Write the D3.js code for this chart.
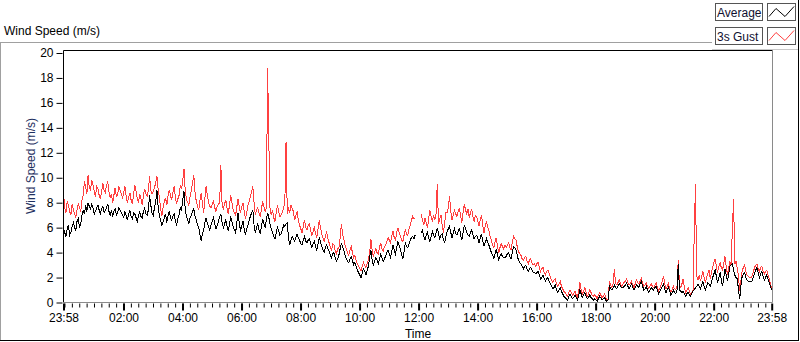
<!DOCTYPE html>
<html><head><meta charset="utf-8">
<script src="https://cdn.jsdelivr.net/npm/d3@7"></script>
<style>
body{margin:0;background:#fff}
svg{display:block}
text{font-family:"Liberation Sans",Arial,sans-serif}
</style>
</head><body>
<svg id="c" width="800" height="342"></svg>
<script>
const chartTitle = "Wind Speed (m/s)";
const yAxisTitle = "Wind Speed (m/s)";
const xAxisTitle = "Time";
const seriesNames = ["Average", "3s Gust"];
const startTime = "23:58";
const stepMinutes = 2.5;

// one row per hour after 23:58 (24 samples per row, last row has the closing sample)
const average = [
6.0,5.6,5.3,5.9,6.2,5.4,5.6,6.1,6.4,6.0,5.8,6.5,6.7,6.0,6.3,7.0,7.4,7.1,7.8,7.3,8.0,7.7,7.5,7.9,
7.6,7.1,7.3,7.6,7.8,7.4,7.1,7.5,7.7,7.2,7.4,7.6,7.9,7.3,7.0,7.4,6.9,7.3,7.5,7.0,7.2,7.6,7.4,7.2,
7.0,6.8,7.3,7.0,6.6,7.1,7.4,6.9,6.7,7.2,7.1,6.8,6.5,7.0,7.3,6.9,6.8,7.3,7.6,7.1,7.0,7.4,8.6,7.8,
7.2,7.0,7.6,8.1,9.0,7.6,7.0,6.6,6.2,6.5,6.8,7.1,6.4,6.9,7.3,6.8,6.6,6.9,7.1,6.5,6.2,6.7,7.0,7.6,
7.4,8.2,8.9,7.5,6.9,6.6,6.3,6.8,7.0,7.3,7.5,6.9,6.6,6.2,6.0,5.4,4.9,5.5,5.8,6.4,6.8,6.3,6.1,5.8,
6.2,6.5,6.8,6.3,5.9,6.2,6.5,6.9,7.1,6.4,6.0,6.3,6.6,6.1,5.7,6.3,6.9,6.5,6.1,5.8,5.6,6.4,7.2,6.3,
5.8,6.1,6.5,5.9,5.4,5.9,6.2,6.6,6.9,7.2,7.4,6.2,5.6,6.0,6.3,5.8,5.5,6.1,6.7,6.3,6.0,6.6,7.2,6.8,
6.3,5.9,5.6,5.3,5.1,5.6,6.0,5.7,5.4,5.5,5.8,6.2,6.1,6.3,6.4,5.2,4.6,5.0,5.3,5.1,4.9,5.2,5.5,5.2,
5.0,4.7,4.6,5.0,5.3,4.9,4.8,5.0,5.1,4.7,4.4,4.7,4.9,4.5,4.2,4.7,5.2,4.9,4.5,4.2,4.0,4.4,4.6,4.3,
4.1,3.8,3.6,3.9,4.0,3.6,3.3,3.5,3.8,4.3,4.7,4.5,4.2,3.8,3.5,3.3,3.2,3.5,3.7,3.4,3.0,3.2,2.9,2.6,
2.4,2.2,2.0,2.4,2.7,2.5,2.2,2.6,2.9,3.6,4.2,3.4,3.0,3.3,3.6,3.4,3.1,3.5,3.9,3.6,3.3,3.5,3.7,4.0,
4.2,3.9,3.6,4.1,4.6,4.2,3.9,4.4,4.9,4.6,4.3,3.8,3.5,4.1,4.8,4.5,4.4,4.7,5.0,5.2,5.3,5.1,5.4,null,
null,null,null,5.6,5.8,5.3,5.0,5.4,5.6,5.2,4.9,5.3,5.7,5.4,5.2,5.6,6.0,5.5,5.1,5.4,5.5,5.0,4.8,5.3,
5.7,5.9,6.1,5.6,5.2,5.6,5.9,5.5,5.4,5.7,6.0,5.4,5.0,5.6,6.2,5.9,5.6,5.4,5.3,5.6,5.8,5.4,5.1,5.3,
5.4,5.1,4.8,5.2,5.5,4.9,4.5,4.8,5.1,4.8,4.6,4.3,4.0,3.8,3.5,3.9,4.3,3.8,3.4,3.7,3.9,3.7,3.6,3.6,
3.7,3.9,4.0,3.7,3.5,4.0,4.5,4.4,4.2,3.8,3.4,3.2,3.1,2.9,2.7,2.9,3.0,2.7,2.5,2.7,2.8,2.6,2.4,2.4,
2.3,2.4,2.5,2.2,1.9,2.0,2.2,1.9,1.7,1.9,2.0,1.7,1.5,1.3,1.1,1.2,1.4,1.0,0.8,1.0,1.2,0.9,0.7,0.5,
0.4,0.3,0.2,0.5,0.7,0.5,0.3,0.4,0.6,0.4,0.2,0.6,1.0,0.7,0.4,0.6,0.8,0.5,0.3,0.4,0.6,0.4,0.3,0.2,
0.3,0.2,0.1,0.3,0.5,0.4,0.2,0.3,0.4,0.2,0.1,0.2,1.3,1.1,1.0,1.2,1.4,1.2,1.1,1.3,1.5,1.3,1.2,1.2,
1.3,1.4,1.6,1.3,1.1,1.3,1.5,1.2,1.0,1.2,1.4,1.3,1.2,1.5,1.7,1.3,1.0,1.1,1.3,1.0,0.8,1.0,1.2,1.1,
1.0,1.2,1.3,1.0,0.7,0.9,1.1,1.3,1.5,1.1,0.8,1.0,1.2,0.9,0.6,0.8,1.0,0.8,0.7,1.0,3.1,1.0,0.9,0.8,
0.9,0.7,0.5,0.7,0.8,0.6,0.5,0.7,0.9,1.0,1.2,1.3,1.5,1.3,1.1,1.4,1.7,1.3,1.0,1.3,1.6,1.5,1.3,1.6,
2.0,2.3,2.6,2.1,1.6,2.0,2.4,1.8,1.3,2.0,2.7,2.2,1.7,2.3,2.9,3.0,3.1,2.6,2.2,2.0,1.9,1.0,0.3,1.4,
2.1,2.3,2.4,2.0,1.8,1.7,1.7,1.7,1.7,2.0,2.3,2.6,2.8,2.4,2.0,2.3,2.5,2.1,1.8,2.0,2.2,1.9,1.6,1.3,1.0
];

const gust = [
8.8,7.6,7.2,8.1,7.8,7.3,7.0,7.9,7.5,7.1,6.8,7.4,7.9,7.6,7.3,8.2,8.6,9.7,9.3,8.7,10.2,9.2,9.0,9.8,
9.4,8.9,8.5,9.3,9.1,8.6,8.3,8.9,9.6,9.0,8.8,9.4,9.7,8.9,8.4,8.7,8.0,8.6,9.2,8.5,8.6,9.3,9.0,8.7,
8.4,8.8,9.3,8.5,8.0,8.4,8.8,8.2,7.9,8.7,9.4,8.9,8.3,8.0,8.7,8.3,7.8,8.6,9.1,8.7,8.5,9.0,10.1,9.0,
8.7,8.9,9.2,9.6,10.1,9.0,8.4,7.5,6.9,7.6,8.1,8.4,7.8,8.5,9.0,8.6,8.2,8.8,9.3,8.4,7.9,8.3,8.6,9.4,
9.1,9.8,10.7,9.0,8.3,8.0,7.8,8.5,9.0,9.6,10.2,8.8,8.1,7.7,7.4,8.2,8.8,7.9,7.2,8.4,9.3,8.6,8.0,7.7,
7.6,7.9,8.1,7.6,7.3,7.7,7.9,8.0,11.0,7.8,7.5,7.9,8.2,7.6,7.1,7.8,8.6,8.0,7.4,7.2,7.0,7.7,8.3,7.6,
7.2,7.7,8.0,7.3,6.7,7.2,7.8,8.1,8.5,8.9,9.3,8.0,7.0,7.4,7.6,7.2,6.9,7.5,8.1,7.7,7.3,7.6,18.8,12.9,
7.4,7.0,7.4,6.8,6.5,7.2,7.8,7.3,6.9,7.0,7.2,7.6,7.9,12.9,7.1,7.5,7.2,7.8,7.5,7.3,6.6,7.0,7.3,6.6,
6.2,5.9,5.6,6.1,6.6,6.0,5.8,6.2,6.3,5.8,5.4,5.7,6.0,5.5,5.2,5.9,6.6,6.0,5.5,5.2,4.9,5.3,5.7,5.1,
4.8,4.4,4.2,4.7,4.6,4.1,3.9,4.3,4.4,5.2,6.3,5.5,5.1,4.6,4.3,4.0,3.8,4.2,4.5,4.0,3.6,3.8,3.4,3.1,
2.9,2.7,2.5,2.9,3.2,3.0,2.8,3.1,3.4,4.0,5.1,4.2,3.7,4.0,4.3,4.0,3.9,4.4,4.8,4.3,4.1,4.5,4.6,4.9,
5.2,5.0,4.8,5.3,5.7,5.2,5.0,5.6,6.0,5.6,5.3,5.0,4.9,5.4,5.8,5.5,5.4,5.9,6.2,6.6,6.9,6.7,6.8,null,
null,null,null,7.1,6.6,6.2,6.8,6.4,6.0,6.7,7.4,6.9,6.5,7.0,6.6,7.1,9.5,6.3,6.7,7.0,6.2,5.6,6.4,7.2,
7.2,7.6,8.5,7.3,6.6,7.0,7.4,7.1,6.9,7.3,7.6,6.9,6.4,7.2,7.9,7.4,7.1,7.5,6.8,7.2,7.5,6.9,6.5,7.0,
6.9,6.5,6.1,6.7,7.0,6.2,5.6,6.1,6.5,6.0,5.8,5.3,5.0,4.6,4.4,4.9,5.2,4.5,4.0,4.4,4.7,4.5,4.3,4.6,
4.4,4.6,4.8,4.4,4.2,4.8,5.3,5.1,5.0,4.5,4.1,3.9,3.8,3.5,3.4,3.6,3.7,3.3,3.1,3.4,3.5,3.2,3.0,3.1,
2.9,3.1,3.2,2.8,2.5,2.7,2.8,2.4,2.2,2.5,2.6,2.3,2.0,1.8,1.6,1.8,1.9,1.5,1.3,1.5,1.7,1.3,1.1,0.9,
0.8,0.6,0.5,0.8,1.0,0.8,0.6,0.7,0.9,0.6,0.4,0.9,1.6,1.0,0.7,0.9,1.2,0.8,0.5,0.7,1.0,0.8,0.6,0.5,
0.6,0.5,0.3,0.6,0.8,0.6,0.4,0.5,0.7,0.4,0.2,0.3,1.7,1.4,1.2,1.5,2.7,1.5,1.4,1.6,1.8,1.5,1.3,1.5,
1.6,1.7,1.9,1.6,1.4,1.5,1.7,1.4,1.2,1.5,1.8,1.6,1.5,1.7,1.9,1.5,1.3,1.4,1.6,1.3,1.1,1.3,1.5,1.3,
1.2,1.4,1.6,1.2,0.9,1.1,1.4,1.7,2.1,1.5,1.1,1.3,1.5,1.1,0.8,1.0,1.3,1.1,1.0,1.3,3.4,1.4,1.2,1.5,
1.9,1.2,0.8,1.0,1.2,0.9,0.6,0.8,1.0,5.5,9.5,2.1,1.8,2.2,1.7,2.1,2.5,2.0,1.6,2.0,2.3,2.6,1.9,2.4,
2.8,3.2,3.5,2.9,2.4,2.9,3.2,2.8,2.6,3.1,3.7,2.9,2.2,2.8,3.3,3.0,5.9,8.3,3.1,3.3,2.7,2.1,0.9,1.8,
2.6,2.8,3.0,2.5,2.2,2.1,2.0,2.0,2.1,2.4,2.8,3.0,3.1,2.7,2.5,2.8,2.9,2.5,2.3,2.5,2.6,2.2,1.9,1.5,1.0
];

const yTickValues = [0,2,4,6,8,10,12,14,16,18,20];
const xTickLabels = ["23:58","02:00","04:00","06:00","08:00","10:00","12:00","14:00","16:00","18:00","20:00","22:00","23:58"];

// ---- time helpers ----
const [sh, sm] = startTime.split(":").map(Number);
const t0 = new Date(2024, 0, 1, sh, sm);
const timeAt = i => new Date(t0.getTime() + i * stepMinutes * 60000);
const tEnd = timeAt(average.length - 1);

const xTickDates = [];
{
  let prev = t0.getTime(), dayOff = 0;
  xTickLabels.forEach((lab, k) => {
    const [h, m] = lab.split(":").map(Number);
    let d = new Date(2024, 0, 1 + dayOff, h, m);
    if (k > 0 && d.getTime() <= prev) { dayOff++; d = new Date(2024, 0, 1 + dayOff, h, m); }
    xTickDates.push(d); prev = d.getTime();
  });
}

const svg = d3.select("#c");
const L = 63.5, R = 772.5, T = 50.5, B = 302.5;

const x = d3.scaleTime().domain([t0, tEnd]).range([L, 771.7]);
const y = d3.scaleLinear().domain([0, 20]).range([B, 53]);

// outer frame
svg.append("line").attr("x1",0).attr("x2",712).attr("y1",42.5).attr("y2",42.5).attr("stroke","#a0a0a0");
svg.append("line").attr("x1",0.5).attr("x2",0.5).attr("y1",42.5).attr("y2",341).attr("stroke","#a0a0a0");
svg.append("line").attr("x1",798.5).attr("x2",798.5).attr("y1",0).attr("y2",341).attr("stroke","#000");
svg.append("line").attr("x1",0).attr("x2",799).attr("y1",340.5).attr("y2",340.5).attr("stroke","#000");

// title
svg.append("text").attr("x",4).attr("y",35).attr("font-size","12px").attr("fill","#000").text(chartTitle);

// series
const line = d3.line().defined(d => d != null).x((d, i) => x(timeAt(i))).y(d => y(d));
const g = svg.append("g");
g.append("path").datum(gust).attr("d", line).attr("fill","none").attr("stroke","#ff4040").attr("stroke-width",1).attr("shape-rendering","crispEdges");
g.append("path").datum(average).attr("d", line).attr("fill","none").attr("stroke","#000").attr("stroke-width",1).attr("shape-rendering","crispEdges");

// plot border
svg.append("line").attr("x1",L).attr("x2",R).attr("y1",T).attr("y2",T).attr("stroke","#000");
svg.append("line").attr("x1",L).attr("x2",L).attr("y1",T).attr("y2",B).attr("stroke","#000");
svg.append("line").attr("x1",R).attr("x2",R).attr("y1",T).attr("y2",B).attr("stroke","#8a8a8a");
svg.append("line").attr("x1",L).attr("x2",R).attr("y1",B).attr("y2",B).attr("stroke","#8a8a8a");

// y axis
const yAx = svg.append("g").attr("transform",`translate(${L - 1},0)`)
  .call(d3.axisLeft(y).tickValues(yTickValues).tickSize(6).tickPadding(3).tickFormat(d3.format("d")));
yAx.select(".domain").remove();
yAx.selectAll("text").attr("font-size","12px").attr("font-family","Liberation Sans, Arial, sans-serif").attr("fill","#000");

// x minor ticks
const minor = d3.timeMinute.every(15).range(t0, tEnd);
const xMin = svg.append("g").attr("transform",`translate(0,${B + 1})`)
  .call(d3.axisBottom(x).tickValues(minor).tickSize(4).tickFormat(""));
xMin.select(".domain").remove();

// x major ticks
const xAx = svg.append("g").attr("transform",`translate(0,${B + 1})`)
  .call(d3.axisBottom(x).tickValues(xTickDates).tickSize(7).tickPadding(3).tickFormat((d, i) => xTickLabels[i]));
xAx.select(".domain").remove();
xAx.selectAll("line").attr("stroke-width", 2);
xAx.selectAll("text").attr("font-size","12px").attr("font-family","Liberation Sans, Arial, sans-serif").attr("fill","#000");

// axis titles
svg.append("text").attr("x",418).attr("y",338).attr("text-anchor","middle").attr("font-size","12px").attr("fill","#000").text(xAxisTitle);
svg.append("text").attr("transform","translate(35,166) rotate(-90)").attr("text-anchor","middle")
  .attr("font-size","12px").attr("fill","#1e3060").text(yAxisTitle);

// legend
const leg = svg.append("g");
leg.append("rect").attr("x",712).attr("y",0).attr("width",86).attr("height",49).attr("fill","#fff");
leg.append("line").attr("x1",712).attr("x2",798).attr("y1",49.5).attr("y2",49.5).attr("stroke","#c8c8c8");
const legColors = ["#000", "#ff4040"];
seriesNames.forEach((name, k) => {
  const yy = 3.5 + k * 24;
  leg.append("rect").attr("x",715.5).attr("y",yy).attr("width",47).attr("height",17).attr("fill","#fff").attr("stroke","#555");
  leg.append("text").attr("x",717).attr("y",yy + 13).attr("font-size","12px").attr("fill","#101030").text(name);
  leg.append("rect").attr("x",767.5).attr("y",yy).attr("width",28).attr("height",17).attr("fill","#fff").attr("stroke","#555");
  const zig = [[769, yy + 13], [776, yy + 5], [785, yy + 13], [794, yy + 3]];
  leg.append("path").attr("d", d3.line()(zig)).attr("fill","none").attr("stroke",legColors[k]).attr("stroke-width",1);
});
</script>
</body></html>
